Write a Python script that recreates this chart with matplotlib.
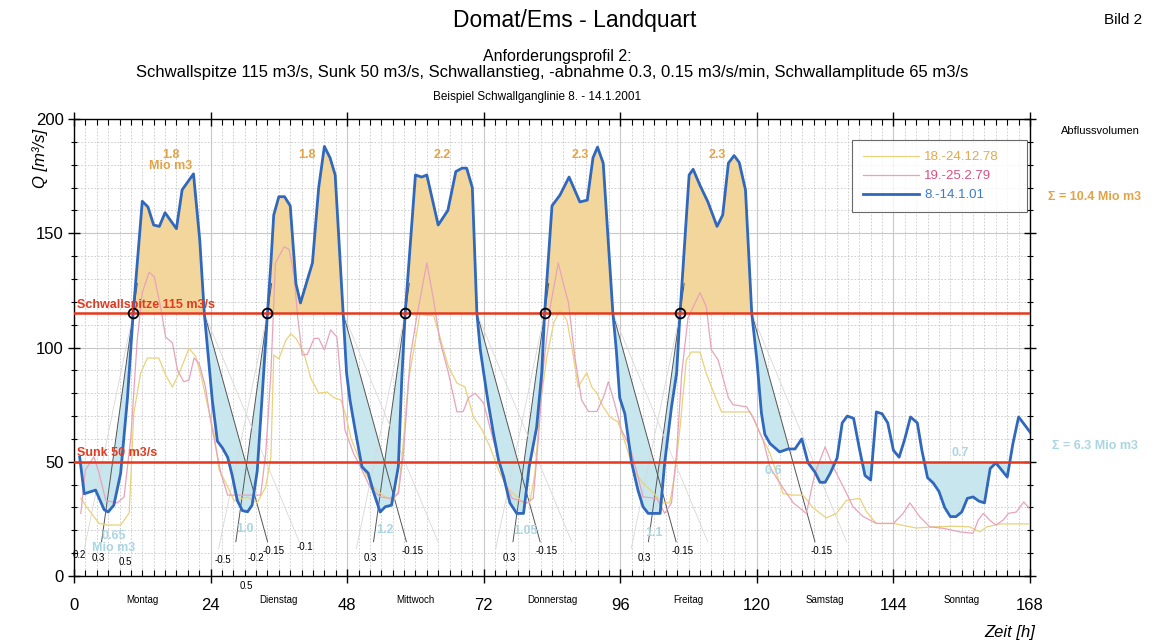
import matplotlib
matplotlib.use('Agg')
import matplotlib.pyplot as plt
from matplotlib.ticker import MultipleLocator
import numpy as np

plt.rcParams['font.family'] = ['Liberation Sans', 'DejaVu Sans']

# --- data (hour, m3/s) ---
hours_01 = [1, 1.8, 3.8, 5.3, 6, 7, 8.2, 9.4, 10.4, 12, 13, 14, 15, 16, 17, 18, 19, 21, 22.1, 22.9,
            24.3, 25.2, 26.1, 27, 27.8, 28.7, 29.6, 30.5, 31.3, 32.2, 33.1, 34, 34.6, 35.1, 36, 37, 38, 39, 39.8,
            41.9, 43, 44, 45, 45.9, 47.3, 47.9, 48.5, 49.4, 50.6, 51.7, 52.6, 53.8, 54.7, 55.8, 57, 57.6, 58.2,
            60, 61.1, 62, 64, 65.7, 67.1, 68.2, 69, 70, 70.8, 71.4, 72, 72.8, 73.7, 74.6, 75.5, 76.6, 77.8, 79,
            80, 81.3, 82.2, 82.7, 84, 85.4, 87, 88.9, 90.2, 91.2, 92, 93, 94.7, 95.3, 95.9, 96.8, 98, 99.1,
            100, 100.9, 103, 103.8, 105, 105.9, 106.5, 108.1, 108.8, 110, 111.4, 113, 114, 115, 116, 116.9,
            118, 119.1, 120, 120.8, 121.4, 122.3, 124, 125.5, 126.7, 127.9, 129, 130.2, 131.1, 132, 132.9,
            134.1, 135, 135.9, 137, 138, 139, 140, 141, 142, 143, 144, 145, 146, 147, 148.2, 149, 150, 151,
            152, 153, 154, 155, 156, 157, 158, 159, 160, 161, 162, 163, 164, 165, 166, 166.8, 168]
q_01 = [52, 36, 37.6, 29, 28, 31, 45, 78, 115, 164, 161.5, 153.6, 153, 159, 155.5, 152, 169, 176, 147, 115,
        77, 59, 56, 52, 44, 33, 28.6, 28.1, 31, 46, 80, 115, 137, 158, 166, 166, 162, 128, 119.5,
        137, 170, 188, 183, 175.5, 115, 88.8, 77, 64, 47.8, 45, 37, 28, 30.3, 31, 48, 86, 115,
        175.5, 174.6, 175.5, 153.6, 160, 177, 178.5, 178.5, 170, 115, 99, 88.8, 75.6, 62.5, 50.8, 43.5, 32, 27.4, 27.4,
        48, 65, 89, 115, 162, 166.7, 174.6, 163.7, 164.5, 183, 187.7, 180.7, 115, 98.9, 78, 71, 49.5, 37.6,
        30.3, 27.4, 27.4, 49.5, 74, 88.8, 115, 175.5, 178, 171, 163.7, 153, 158, 180.7, 184, 181,
        169, 115, 94.5, 71.3, 62, 58, 54.3, 55.6, 55.6, 60, 49.5, 45.5, 41, 41, 45,
        51.6, 67, 70, 69, 56, 44, 42, 71.8, 71, 67, 55, 52, 60, 69.6, 67, 55, 43, 40.7,
        37, 30, 26, 26, 28, 34, 34.6, 32.8, 32, 47, 49.5, 46.4, 43.3, 58, 69.6, 67, 63]

hours_79 = [1.2, 2, 3.5, 4.4, 5.6, 7.6, 8.8, 10, 11.1, 12, 13.2, 14.1, 15.2, 16.1, 17.3, 18.2, 19.3, 20.2,
            21.1, 22, 23.1, 24, 24.9, 25.8, 27, 32.8, 33.7, 34.6, 35.4, 36.9, 37.8, 38.7, 39.3, 40.1, 41, 42.2,
            43, 44, 45.1, 46.2, 47, 47.6, 49.1, 50.6, 52, 53.8, 55.5, 57, 57.9, 59.1, 60.2, 62, 63.2, 64.3,
            65.8, 67.3, 68.4, 69.3, 70.5, 72, 73.1, 74.3, 75.5, 77, 79.6, 80.7, 81.6, 82.5, 83.7, 85.1, 86,
            86.9, 88, 89.2, 90.4, 91.9, 93, 93.9, 95, 96.2, 97.7, 98.8, 100, 102.4, 103.8, 105, 105.9, 106.8,
            107.9, 110, 111.1, 112, 113.2, 115, 115.8, 118.2, 119.3, 121.1, 122.3, 124, 126.4, 128.7, 130.2,
            132, 133.4, 135.2, 136.9, 138.7, 141, 144, 145.7, 146.9, 148.6, 150.4, 152.7, 155.7, 158, 158.9,
            159.8, 160.9, 162, 163.3, 164.2, 165.6, 166.9, 167.8]
q_79 = [27.4, 46.4, 52.2, 45, 33, 32, 34.6, 61, 103, 124, 133, 131, 118, 104.6, 102, 90, 85, 85.8,
        95.4, 93, 82.7, 68, 56.5, 45, 35.4, 35.4, 53.8, 88.8, 137, 144, 143, 131, 113.5, 96.7, 97, 104,
        104, 98.9, 107.7, 104.6, 82.7, 64, 53.8, 46.4, 39, 34.6, 34, 36, 53.8, 96, 113, 137, 120.7, 103,
        88.8, 71.8, 72, 78, 80, 75.6, 65, 53.8, 42, 34, 32, 34, 59.5, 91.6, 118, 137, 128,
        119.5, 96, 77, 72, 72, 78, 85, 75.6, 64, 56.5, 46.4, 34.6, 34, 27.4, 32, 53.8, 88.8,
        113, 124, 118, 99, 94.5, 78, 75, 74, 69.6, 59.5, 47.8, 40.7, 32, 27.4, 45,
        56.5, 47.8, 39, 30.3, 26, 23, 23, 27.4, 32, 26, 21.5, 20.9, 19.3, 18.7, 24.5,
        27.4, 24.5, 22.3, 24.5, 27.4, 28, 32.4, 29.8]

hours_78 = [1.2, 2.6, 4.4, 5.9, 8.2, 9.7, 10.5, 11.7, 12.9, 14.9, 16.1, 17.3, 18.7, 20.2, 21.4, 22.3, 23.4,
            24.6, 25.5, 26.7, 28.1, 30.5, 32.2, 33.7, 34.6, 35.1, 36, 37.2, 38.1, 39, 40.4, 41.6, 43, 44.5,
            45.7, 46.9, 47.8, 48.7, 50.9, 52.6, 54.4, 56.1, 57, 57.6, 58.8, 60.2, 60.8, 62, 63.2, 64.3, 65.8,
            67.3, 68.7, 70.2, 71.7, 73.1, 74.6, 76, 77.5, 79, 80.1, 81, 81.9, 83.1, 84.3, 85.4, 86.6, 87.5,
            88.6, 90.1, 91, 91.9, 93, 94.2, 95.6, 97.1, 98.3, 100, 101.8, 103.5, 104.7, 105.6, 106.5, 107.6,
            108.5, 110, 111.1, 112.6, 113.8, 118.8, 119.6, 120.5, 122.3, 124.6, 126.4, 128.1, 129.9, 132.2,
            134, 135.7, 138.1, 139.3, 141, 144, 148, 151, 154.5, 157.4, 159.2, 160.4, 162.7, 168]
q_78 = [34, 28.9, 23, 22.3, 22.3, 27.6, 71, 88.8, 95.4, 95.4, 88, 82.7, 90, 99.7, 96, 88, 75.6,
        62.5, 46.4, 40.7, 33, 34.5, 32, 39, 52, 96.7, 95, 103, 106, 104, 97.6, 86.6, 80, 80.5,
        78, 77, 70, 60, 46.4, 39, 35, 33, 37, 51, 86, 106, 115, 114, 114, 104.6, 91.6,
        84.4, 82.7, 69.6, 64, 56.5, 46.4, 39, 35.4, 32, 32, 45, 74, 96, 110.7, 116.4, 112, 100,
        82.7, 89, 82.7, 80, 74, 69.6, 67.4, 56.5, 46.4, 40.7, 36.3, 32, 32, 45, 65, 94.5,
        98, 98, 88.8, 79, 71.8, 71.8, 68, 62.5, 53.8, 36, 35.4, 35.4, 29.8, 25.4,
        27.4, 33, 34, 28, 23, 23, 21, 21.5, 21.8, 21.5, 19.3, 21.5, 22.8, 22.8]

series_labels = ['18.-24.12.78', '19.-25.2.79', '8.-14.1.01']
day_names = ['Montag', 'Dienstag', 'Mittwoch', 'Donnerstag', 'Freitag', 'Samstag', 'Sonntag']
peak_volumes = ['1.8\nMio m3', '1.8', '2.2', '2.3', '2.3']
sunk_volumes = ['0.65\nMio m3', '1.0', '1.2', '1.05', '1.1', '0.6', '0.7']
sunk_label_pos = [(7, 20), (30, 20.5), (54.6, 20), (79.3, 19.5), (102, 19), (122.8, 46), (155.7, 54)]

q_peak = 115      # Schwallspitze
q_sunk = 50       # Sunk
ramp_up = 0.3     # m3/s/min
ramp_down = 0.15  # m3/s/min

blue = '#2f68bd'
pink = '#e8a3bb'
yellow = '#e9d27a'
red = '#e5391f'
orange_txt = '#e3a345'
cyan_txt = '#a9d6e3'

fig = plt.figure(figsize=(11.54, 6.44), dpi=100)
ax = fig.add_axes([74 / 1154, 1 - 576 / 644, 956 / 1154, 457 / 644])

hb = np.array(hours_01)
qb = np.array(q_01)

# crossings of the 115 line
ups, downs = [], []
for i in range(len(qb) - 1):
    if qb[i] < q_peak <= qb[i + 1]:
        ups.append(hb[i] + (q_peak - qb[i]) / (qb[i + 1] - qb[i]) * (hb[i + 1] - hb[i]))
    if qb[i] >= q_peak > qb[i + 1]:
        downs.append(hb[i] + (qb[i] - q_peak) / (qb[i] - qb[i + 1]) * (hb[i + 1] - hb[i]))

up_h = ramp_up * 60
down_h = ramp_down * 60

# allowed profile: ramp down from the peak, stay at Sunk, ramp up to the next peak
xf = np.linspace(hb[0], hb[-1], 6000)
bf = np.interp(xf, hb, qb)
prof = np.full_like(xf, np.nan)
for k, x in enumerate(xf):
    pd_ = [d for d in downs if d <= x]
    pu_ = [u for u in ups if u <= x]
    if pu_ and (not pd_ or max(pu_) > max(pd_)):
        continue
    nu = [u for u in ups if u >= x]
    dl = q_peak - down_h * (x - max(pd_)) if pd_ else -np.inf
    ul = q_peak - up_h * (min(nu) - x) if nu else -np.inf
    prof[k] = max(q_sunk, dl, ul)
ok = ~np.isnan(prof)
top = np.where(ok, prof, bf)
ax.fill_between(xf, bf, top, where=ok & (bf < top), color='#c8e6ed', lw=0, interpolate=True, zorder=1)
ax.fill_between(xf, q_peak, bf, where=bf > q_peak, color='#f3d69c', lw=0, interpolate=True, zorder=1)

# ramp lines
for u in ups:
    ax.plot([u - (q_peak - 15) / up_h, u + 13 / up_h], [15, 128], color='#555555', lw=0.7, zorder=2)
    ax.plot([u - (q_peak - 12) / 12, u], [12, q_peak], color='#d8d8d8', lw=0.6, zorder=2)
for j, u in enumerate(ups):
    if j != 1:
        ax.text(u - 6.2, 8, '0.3', fontsize=7, ha='center', va='center')
for d in downs:
    ax.plot([d, d + (q_peak - 15) / down_h], [q_peak, 15], color='#555555', lw=0.7, zorder=2)
    ax.plot([d, d + (q_peak - 15) / 6], [q_peak, 15], color='#d8d8d8', lw=0.6, zorder=2)
    ax.text(d + 12.2, 11, '-0.15', fontsize=7, ha='center', va='center')
for x, y, s in [(1, 9, '0.2'), (9, 6, '0.5'), (26.2, 7, '-0.5'), (32, 8, '-0.2'),
                (30.2, -4.5, '0.5'), (40.6, 12.7, '-0.1')]:
    ax.text(x, y, s, fontsize=7, ha='center', va='center')

ax.plot(hours_78, q_78, color=yellow, lw=0.9, zorder=3, label=series_labels[0])
ax.plot(hours_79, q_79, color=pink, lw=0.9, zorder=3, label=series_labels[1])
ax.plot(hb, qb, color=blue, lw=2, zorder=4, label=series_labels[2])

ax.axhline(q_peak, color=red, lw=1.8, zorder=5)
ax.axhline(q_sunk, color=red, lw=1.8, zorder=5)
ax.plot(ups, [q_peak] * len(ups), 'o', ms=7, mfc='none', mec='black', mew=1.3, zorder=6)
ax.text(0.5, 117.5, 'Schwallspitze 115 m3/s', color=red, fontsize=9, fontweight='bold', zorder=6)
ax.text(0.5, 52.5, 'Sunk 50 m3/s', color=red, fontsize=9, fontweight='bold', zorder=6)

# volume labels
for d, u, s in zip(ups, downs, peak_volumes):
    ax.text((d + u) / 2 + 0.3, 187, s, color=orange_txt, fontsize=9, fontweight='bold',
            ha='center', va='top', linespacing=0.95)
for (x, y), s in zip(sunk_label_pos, sunk_volumes):
    ax.text(x, y, s, color=cyan_txt, fontsize=9, fontweight='bold', ha='center',
            va='top' if '\n' in s else 'center', linespacing=0.95, zorder=6)

ax.set_xlim(0, 168)
ax.set_ylim(0, 200)
ax.set_xticks(np.arange(0, 169, 24))
ax.set_yticks(np.arange(0, 201, 50))
ax.xaxis.set_minor_locator(MultipleLocator(2))
ax.yaxis.set_minor_locator(MultipleLocator(10))
ax.tick_params(axis='x', which='major', direction='inout', length=10, width=1, top=True, labelsize=12, pad=11)
ax.tick_params(axis='x', which='minor', direction='in', length=4, width=0.8, top=True)
ax.tick_params(axis='y', which='major', direction='inout', length=8, width=1, right=True, labelsize=12)
ax.tick_params(axis='y', which='minor', direction='inout', length=5, width=0.8, right=True)
ax.grid(which='major', color='#c8c8c8', lw=0.8)
ax.grid(which='minor', color='#c8c8c8', lw=0.6, ls=(0, (2, 2)))
ax.set_axisbelow(True)
for sp in ax.spines.values():
    sp.set_linewidth(1)

for i, name in enumerate(day_names):
    ax.text(12 + 24 * i, -0.052, name, transform=ax.get_xaxis_transform(), fontsize=7,
            ha='center', va='center')

leg = ax.legend(loc='upper left', bbox_to_anchor=(0.814, 0.794, 0.183, 0.16), mode='expand',
                fontsize=9.5, frameon=True, fancybox=False, edgecolor='#444444', handlelength=4.2,
                borderpad=0.85, labelspacing=0.5, handletextpad=0.4, borderaxespad=0)
leg.get_frame().set_linewidth(0.8)
for t, c in zip(leg.get_texts(), ['#e6a84a', '#dc4f82', '#3a7bc8']):
    t.set_color(c)


def fx(px):
    return px / 1154


def fy(py):
    return 1 - py / 644


fig.text(fx(575), fy(20), 'Domat/Ems - Landquart', fontsize=16.5, ha='center', va='center')
fig.text(fx(1123), fy(20), 'Bild 2', fontsize=11, ha='center', va='center')
fig.text(fx(557), fy(57), 'Anforderungsprofil 2:', fontsize=11.5, ha='center', va='center')
fig.text(fx(552), fy(72), 'Schwallspitze 115 m3/s, Sunk 50 m3/s, Schwallanstieg, -abnahme 0.3, 0.15 m3/s/min, '
         'Schwallamplitude 65 m3/s', fontsize=12, ha='center', va='center')
fig.text(fx(537), fy(97), 'Beispiel Schwallganglinie 8. - 14.1.2001', fontsize=8.5, ha='center', va='center')
fig.text(fx(40), fy(158), 'Q [m³/s]', fontsize=12, style='italic', rotation=90, ha='center', va='center')
fig.text(fx(1010), fy(633), 'Zeit [h]', fontsize=12, style='italic', ha='center', va='center')
fig.text(fx(1100), fy(131), 'Abflussvolumen', fontsize=8, ha='center', va='center')
fig.text(fx(1095), fy(197), 'Σ = 10.4 Mio m3', fontsize=9, color=orange_txt, fontweight='bold',
         ha='center', va='center')
fig.text(fx(1095), fy(446), 'Σ = 6.3 Mio m3', fontsize=9, color=cyan_txt, fontweight='bold',
         ha='center', va='center')

fig.savefig('out.png', dpi=100)
